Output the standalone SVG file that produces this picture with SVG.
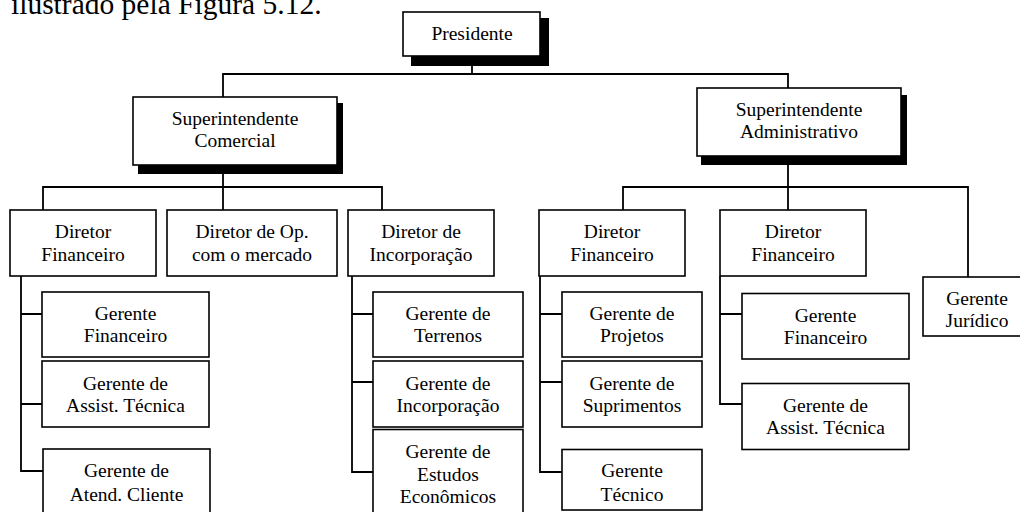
<svg xmlns="http://www.w3.org/2000/svg" width="1020" height="512" viewBox="0 0 1020 512">
  <style>
    .box { fill: #ffffff; stroke: #000000; stroke-width: 1.6; }
    .shadow { fill: #000000; stroke: none; }
    .lbl { font-family: "Liberation Serif", "Times New Roman", serif; font-size: 19.5px; fill: #000000; text-anchor: middle; }
    .head { font-family: "Liberation Serif", "Times New Roman", serif; font-size: 29.5px; fill: #000000; }
    #connectors path { fill: none; stroke: #000000; stroke-width: 1.8; }
  </style>
  <rect x="0" y="0" width="1020" height="512" fill="#ffffff"/>

  <!-- running text line above the chart -->
  <text class="head" x="11" y="14">ilustrado pela Figura 5.12.</text>

  <!-- connectors -->
  <g id="connectors">
    <!-- Presidente to superintendents -->
    <path d="M472 66 V74 M223 97 V74 H788 V88"/>
    <!-- Superintendente Comercial to directors -->
    <path d="M223 174 V187 M43 210 V187 H382 V210 M223 187 V210"/>
    <!-- Superintendente Administrativo to directors -->
    <path d="M788 165 V187 M623 210 V187 H968 V277 M788 187 V210"/>
    <!-- Diretor Financeiro (comercial) to managers -->
    <path d="M21 276 V471 H43 M21 314 H42 M21 404 H42"/>
    <!-- Diretor de Incorporação to managers -->
    <path d="M352 276 V472 H373 M352 314 H373 M352 382 H373"/>
    <!-- Diretor Financeiro (administrativo) to managers -->
    <path d="M540 276 V472 H562 M540 314 H562 M540 382 H562"/>
    <!-- second Diretor Financeiro (administrativo) to managers -->
    <path d="M720 276 V404 H742 M720 314 H742"/>
  </g>

  <!-- top level -->
  <g id="presidente">
    <rect class="shadow" x="411" y="18" width="138" height="48"/>
    <rect class="box" x="403" y="12" width="137" height="44"/>
    <text class="lbl" x="472" y="39.5">Presidente</text>
  </g>

  <g id="sup-comercial">
    <rect class="shadow" x="138" y="103" width="205" height="71"/>
    <rect class="box" x="133" y="97" width="204" height="68"/>
    <text class="lbl" x="235" y="125">Superintendente</text>
    <text class="lbl" x="235" y="147.3">Comercial</text>
  </g>

  <g id="sup-administrativo">
    <rect class="shadow" x="701" y="95" width="206" height="70"/>
    <rect class="box" x="697" y="88" width="204" height="68"/>
    <text class="lbl" x="799" y="115.5">Superintendente</text>
    <text class="lbl" x="799" y="138">Administrativo</text>
  </g>

  <!-- directors -->
  <g id="dir-financeiro-com">
    <rect class="box" x="10" y="210" width="146" height="66"/>
    <text class="lbl" x="83" y="238.3">Diretor</text>
    <text class="lbl" x="83" y="260.7">Financeiro</text>
  </g>

  <g id="dir-operacoes">
    <rect class="box" x="167" y="210" width="170" height="66"/>
    <text class="lbl" x="252" y="238.3">Diretor de Op.</text>
    <text class="lbl" x="252" y="260.7">com o mercado</text>
  </g>

  <g id="dir-incorporacao">
    <rect class="box" x="348" y="210" width="146" height="66"/>
    <text class="lbl" x="421" y="238.3">Diretor de</text>
    <text class="lbl" x="421" y="260.7">Incorporação</text>
  </g>

  <g id="dir-financeiro-adm">
    <rect class="box" x="539" y="210" width="146" height="66"/>
    <text class="lbl" x="612" y="238.3">Diretor</text>
    <text class="lbl" x="612" y="260.7">Financeiro</text>
  </g>

  <g id="dir-financeiro-adm2">
    <rect class="box" x="720" y="210" width="146" height="66"/>
    <text class="lbl" x="793" y="238.3">Diretor</text>
    <text class="lbl" x="793" y="260.7">Financeiro</text>
  </g>

  <g id="ger-juridico">
    <rect class="box" x="923" y="277" width="108" height="59"/>
    <text class="lbl" x="977" y="305">Gerente</text>
    <text class="lbl" x="977" y="326.7">Jurídico</text>
  </g>

  <!-- managers under Diretor Financeiro (comercial) -->
  <g id="ger-financeiro-com">
    <rect class="box" x="42" y="292" width="167" height="65"/>
    <text class="lbl" x="125.5" y="320">Gerente</text>
    <text class="lbl" x="125.5" y="342.3">Financeiro</text>
  </g>

  <g id="ger-assist-com">
    <rect class="box" x="42" y="361" width="167" height="66"/>
    <text class="lbl" x="125.5" y="390">Gerente de</text>
    <text class="lbl" x="125.5" y="411.7">Assist. Técnica</text>
  </g>

  <g id="ger-atendimento">
    <rect class="box" x="43" y="449" width="167" height="68"/>
    <text class="lbl" x="126.5" y="477.3">Gerente de</text>
    <text class="lbl" x="126.5" y="500.7">Atend. Cliente</text>
  </g>

  <!-- managers under Diretor de Incorporação -->
  <g id="ger-terrenos">
    <rect class="box" x="373" y="292" width="150" height="65"/>
    <text class="lbl" x="448" y="320">Gerente de</text>
    <text class="lbl" x="448" y="342.3">Terrenos</text>
  </g>

  <g id="ger-incorporacao">
    <rect class="box" x="373" y="361" width="150" height="66"/>
    <text class="lbl" x="448" y="390">Gerente de</text>
    <text class="lbl" x="448" y="411.7">Incorporação</text>
  </g>

  <g id="ger-estudos">
    <rect class="box" x="373" y="429.5" width="150" height="90"/>
    <text class="lbl" x="448" y="458.3">Gerente de</text>
    <text class="lbl" x="448" y="480.7">Estudos</text>
    <text class="lbl" x="448" y="503.3">Econômicos</text>
  </g>

  <!-- managers under Diretor Financeiro (administrativo) -->
  <g id="ger-projetos">
    <rect class="box" x="562" y="292" width="140" height="65"/>
    <text class="lbl" x="632" y="320">Gerente de</text>
    <text class="lbl" x="632" y="342.3">Projetos</text>
  </g>

  <g id="ger-suprimentos">
    <rect class="box" x="562" y="361" width="140" height="66"/>
    <text class="lbl" x="632" y="390">Gerente de</text>
    <text class="lbl" x="632" y="411.7">Suprimentos</text>
  </g>

  <g id="ger-tecnico">
    <rect class="box" x="562" y="449.5" width="140" height="60.5"/>
    <text class="lbl" x="632" y="477.3">Gerente</text>
    <text class="lbl" x="632" y="500.7">Técnico</text>
  </g>

  <!-- managers under the second Diretor Financeiro -->
  <g id="ger-financeiro-adm">
    <rect class="box" x="742" y="293.5" width="167" height="65.5"/>
    <text class="lbl" x="825.5" y="321.7">Gerente</text>
    <text class="lbl" x="825.5" y="344">Financeiro</text>
  </g>

  <g id="ger-assist-adm">
    <rect class="box" x="742" y="383.5" width="167" height="66"/>
    <text class="lbl" x="825.5" y="411.7">Gerente de</text>
    <text class="lbl" x="825.5" y="434">Assist. Técnica</text>
  </g>
</svg>
